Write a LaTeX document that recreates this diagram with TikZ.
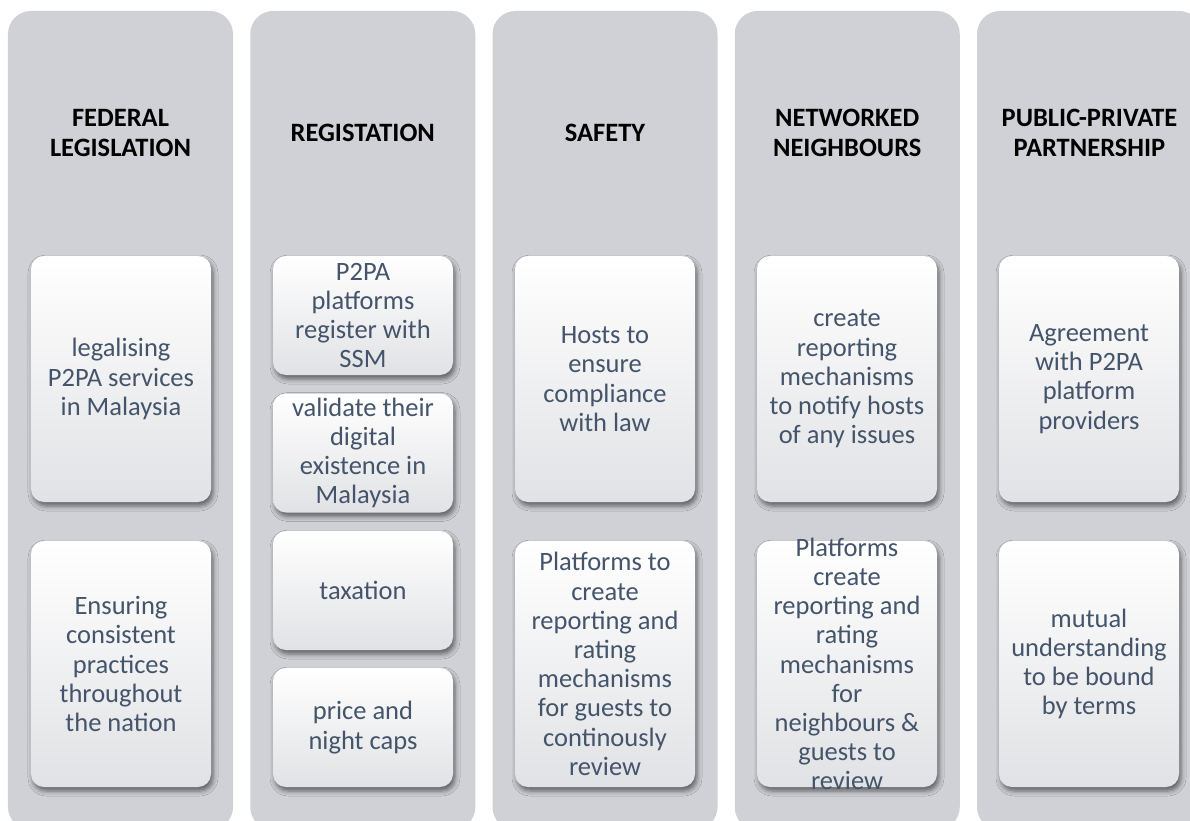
\documentclass[tikz,border=0pt]{standalone}
\usepackage{fontspec}
\setmainfont{Carlito}
\usetikzlibrary{shadows.blur}

\definecolor{colgray}{RGB}{208,209,214}
\definecolor{cardbot}{RGB}{225,226,229}
\definecolor{cardtext}{RGB}{68,84,106}

\tikzset{
  colbox/.style={draw=none, fill=colgray, rounded corners=23bp,
    minimum width=225bp, minimum height=819bp, inner sep=0pt},
  colhead/.style={align=center, text=black, inner sep=0pt,
    font=\fontsize{26.5bp}{29.6bp}\selectfont\bfseries},
  cardbox/.style={draw=none, rounded corners=13bp, inner sep=0pt,
    minimum width=180bp, top color=white, middle color=white, bottom color=cardbot,
    blur shadow={shadow xshift=2bp, shadow yshift=-4bp,
      shadow blur radius=5bp, shadow opacity=55}},
  cardtxt/.style={align=center, text=cardtext, inner sep=0pt,
    font=\fontsize{26.5bp}{29.2bp}\selectfont}
}

% \cardat{name}{x}{y}{height}{text}
\newcommand\cardat[5]{%
  \node[cardbox, minimum height=#4bp] (#1) at (#2,#3) {};
  \node[cardtxt] (#1-t) at (#1.center) {#5};
}

\begin{document}
\begin{tikzpicture}[x=1bp,y=-1bp]
  \useasboundingbox (0,0) rectangle (1190,821);
  \fill[white] (0,0) rectangle (1190,821);
  \clip (0,0) rectangle (1190,821);

  % the five columns
  \node[colbox] (c1) at (120.5,420.5) {};
  \node[colbox] (c2) at (362.75,420.5) {};
  \node[colbox] (c3) at (605,420.5) {};
  \node[colbox] (c4) at (847.25,420.5) {};
  \node[colbox] (c5) at (1089.5,420.5) {};

  % column headings
  \node[colhead] (h1) at (120.5,133) {FEDERAL\\LEGISLATION};
  \node[colhead] (h2) at (362.75,133) {REGISTATION};
  \node[colhead] (h3) at (605,133) {SAFETY};
  \node[colhead] (h4) at (847.25,133) {NETWORKED\\NEIGHBOURS};
  \node[colhead] (h5) at (1089.5,133) {PUBLIC-PRIVATE\\PARTNERSHIP};

  % federal legislation
  \cardat{a1}{121}{379}{246}{legalising\\P2PA services\\in Malaysia}
  \cardat{a2}{121}{664}{246}{Ensuring\\consistent\\practices\\throughout\\the nation}

  % registation
  \cardat{b1}{363}{315.5}{119}{P2PA\\platforms\\register with\\SSM}
  \cardat{b2}{363}{453}{119}{validate their\\digital\\existence in\\Malaysia}
  \cardat{b3}{363}{590.5}{119}{taxation}
  \cardat{b4}{363}{727.5}{119}{price and\\night caps}

  % safety
  \cardat{s1}{605}{379}{246}{Hosts to\\ensure\\compliance\\with law}
  \cardat{s2}{605}{664}{246}{Platforms to\\create\\reporting and\\rating\\mechanisms\\for guests to\\continously\\review}

  % networked neighbours
  \cardat{n1}{847}{379}{246}{create\\reporting\\mechanisms\\to notify hosts\\of any issues}
  \cardat{n2}{847}{664}{246}{Platforms\\create\\reporting and\\rating\\mechanisms\\for\\neighbours \&\\guests to\\review}

  % public-private partnership
  \cardat{p1}{1089}{379}{246}{Agreement\\with P2PA\\platform\\providers}
  \cardat{p2}{1089}{664}{246}{mutual\\understanding\\to be bound\\by terms}
\end{tikzpicture}
\end{document}
